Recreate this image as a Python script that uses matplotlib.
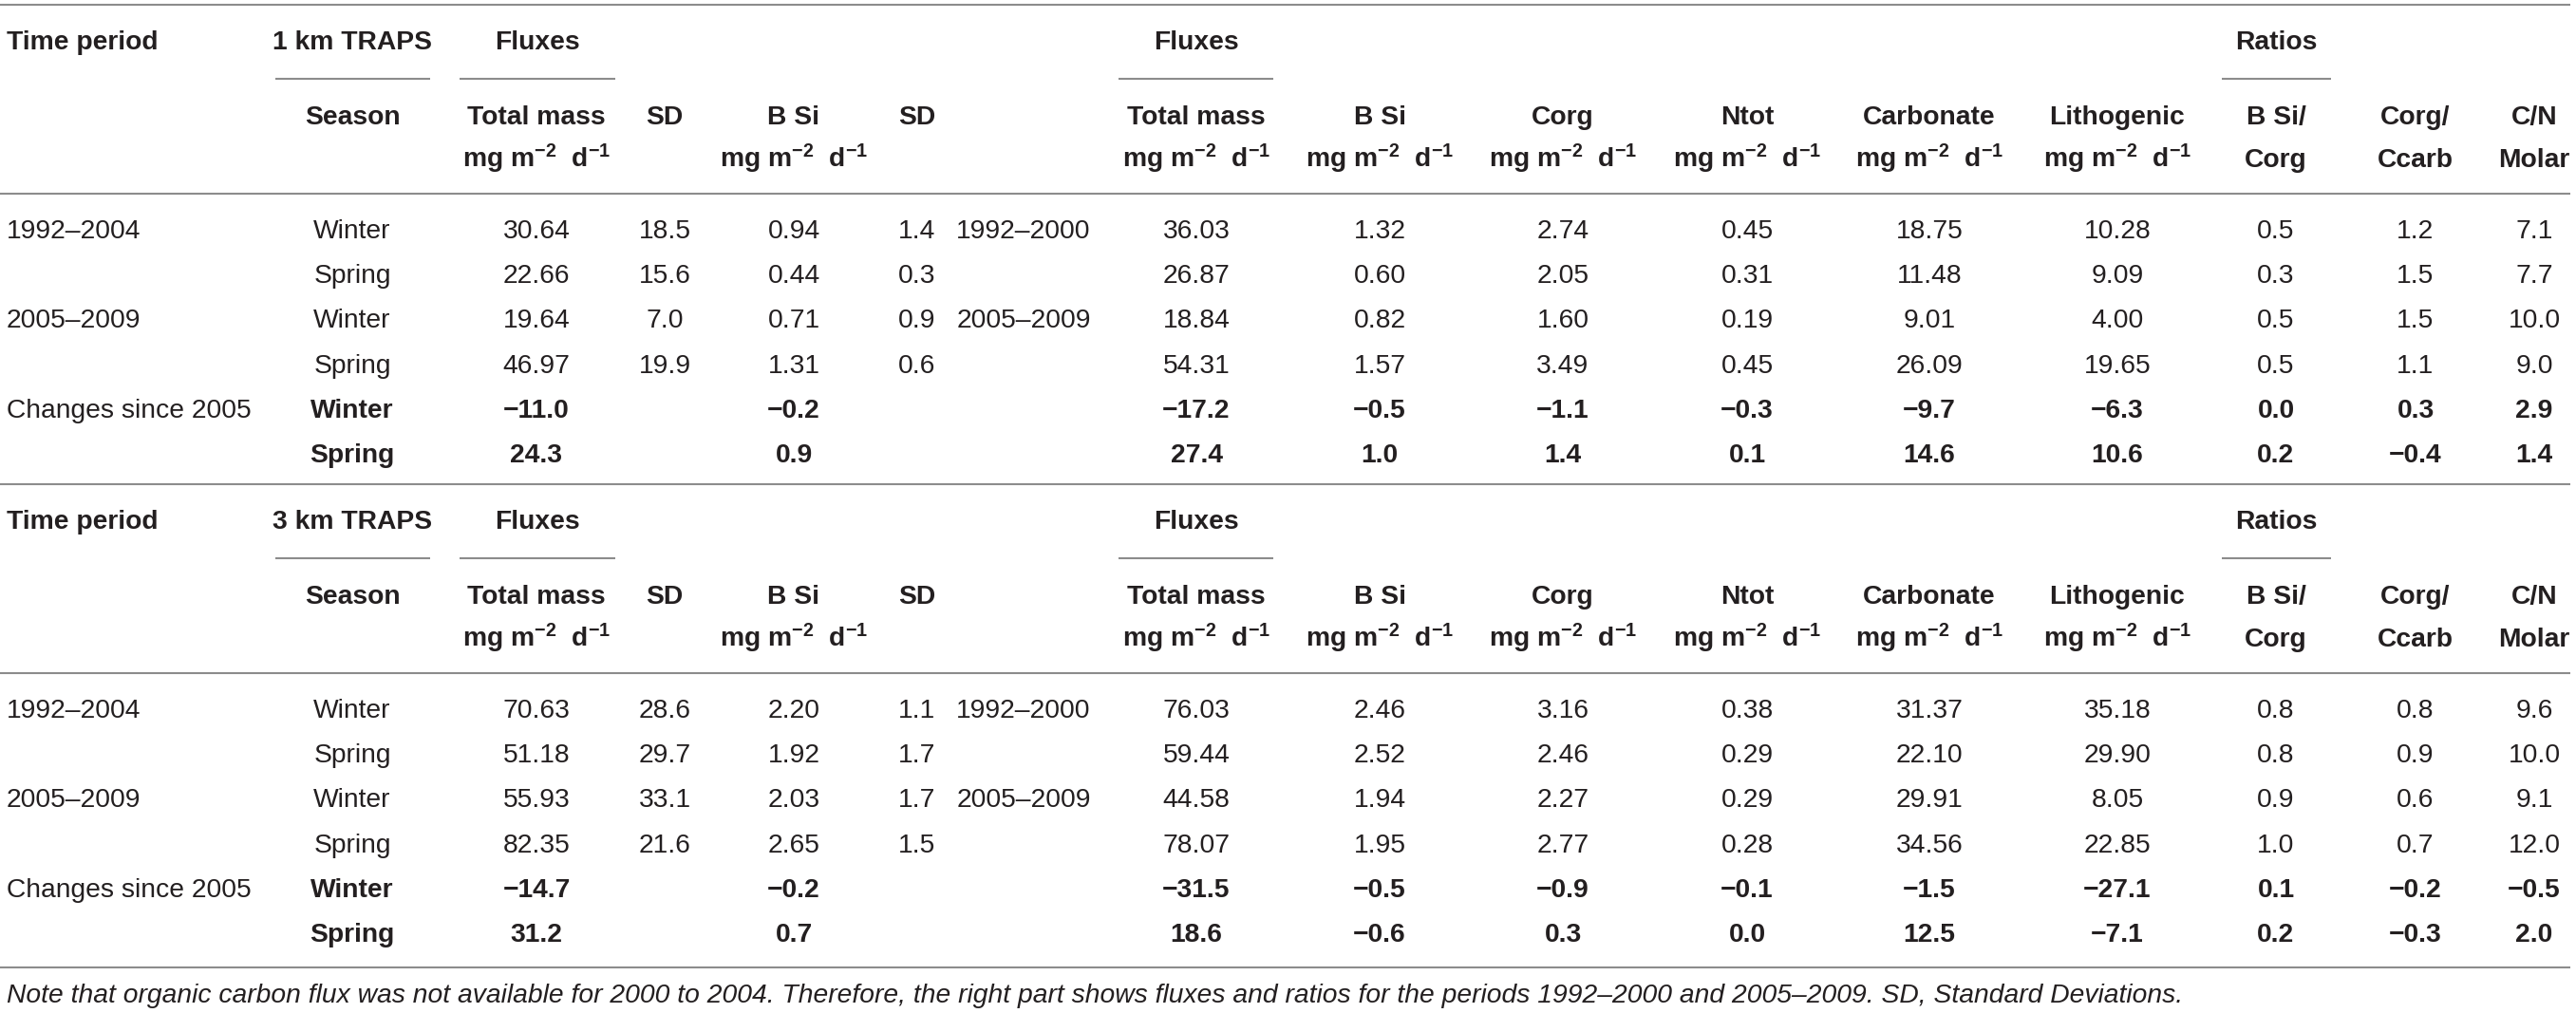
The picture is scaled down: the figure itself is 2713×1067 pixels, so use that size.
import matplotlib.pyplot as plt

plt.rcParams['font.family'] = ['Liberation Sans', 'DejaVu Sans']
plt.rcParams['mathtext.fontset'] = 'custom'
plt.rcParams['mathtext.rm'] = 'Liberation Sans'
plt.rcParams['mathtext.bf'] = 'Liberation Sans:bold'
plt.rcParams['mathtext.it'] = 'Liberation Sans:italic'

# row labels
periods = ['1992\u20132004', '', '2005\u20132009', '', 'Changes since 2005', '']
seasons = ['Winter', 'Spring', 'Winter', 'Spring', 'Winter', 'Spring']
periods_right = ['1992\u20132000', '', '2005\u20132009', '', '', '']

# column headers
head_top = ['Fluxes', 'Fluxes', 'Ratios']
head_names = ['Total mass', 'SD', 'B Si', 'SD', '', 'Total mass', 'B Si', 'Corg',
              'Ntot', 'Carbonate', 'Lithogenic', 'B Si/', 'Corg/', 'C/N']
unit = r'$\mathbf{mg\ m^{-2}\ \ d^{-1}}$'
head_units = [unit, '', unit, '', '', unit, unit, unit, unit, unit, unit,
              'Corg', 'Ccarb', 'Molar']

# 1 km traps
km1_left = [
    ['30.64', '18.5', '0.94', '1.4'],
    ['22.66', '15.6', '0.44', '0.3'],
    ['19.64', '7.0', '0.71', '0.9'],
    ['46.97', '19.9', '1.31', '0.6'],
    ['\u221211.0', '', '\u22120.2', ''],
    ['24.3', '', '0.9', ''],
]
km1_right = [
    ['36.03', '1.32', '2.74', '0.45', '18.75', '10.28', '0.5', '1.2', '7.1'],
    ['26.87', '0.60', '2.05', '0.31', '11.48', '9.09', '0.3', '1.5', '7.7'],
    ['18.84', '0.82', '1.60', '0.19', '9.01', '4.00', '0.5', '1.5', '10.0'],
    ['54.31', '1.57', '3.49', '0.45', '26.09', '19.65', '0.5', '1.1', '9.0'],
    ['\u221217.2', '\u22120.5', '\u22121.1', '\u22120.3', '\u22129.7', '\u22126.3', '0.0', '0.3', '2.9'],
    ['27.4', '1.0', '1.4', '0.1', '14.6', '10.6', '0.2', '\u22120.4', '1.4'],
]

# 3 km traps
km3_left = [
    ['70.63', '28.6', '2.20', '1.1'],
    ['51.18', '29.7', '1.92', '1.7'],
    ['55.93', '33.1', '2.03', '1.7'],
    ['82.35', '21.6', '2.65', '1.5'],
    ['\u221214.7', '', '\u22120.2', ''],
    ['31.2', '', '0.7', ''],
]
km3_right = [
    ['76.03', '2.46', '3.16', '0.38', '31.37', '35.18', '0.8', '0.8', '9.6'],
    ['59.44', '2.52', '2.46', '0.29', '22.10', '29.90', '0.8', '0.9', '10.0'],
    ['44.58', '1.94', '2.27', '0.29', '29.91', '8.05', '0.9', '0.6', '9.1'],
    ['78.07', '1.95', '2.77', '0.28', '34.56', '22.85', '1.0', '0.7', '12.0'],
    ['\u221231.5', '\u22120.5', '\u22120.9', '\u22120.1', '\u22121.5', '\u221227.1', '0.1', '\u22120.2', '\u22120.5'],
    ['18.6', '\u22120.6', '0.3', '0.0', '12.5', '\u22127.1', '0.2', '\u22120.3', '2.0'],
]

note = ('Note that organic carbon flux was not available for 2000 to 2004. Therefore, the right part '
        'shows fluxes and ratios for the periods 1992\u20132000 and 2005\u20132009. SD, Standard Deviations.')

W, H = 2713, 1067
fig = plt.figure(figsize=(W / 100, H / 100), dpi=100)
ax = fig.add_axes([0, 0, 1, 1])
ax.set_xlim(0, W)
ax.set_ylim(H, 0)
ax.axis('off')

FS = 20.3
TXT = '#231f20'
RULE = '#8c8c8c'

# column centres (pixels)
x_season = 371
x_cols = [565, 700, 836, 966, 1078, 1260, 1453, 1646, 1840, 2032, 2230, 2397, 2544, 2669]
top_spans = [(484, 648), (1178, 1341), (2340, 2455)]


def hline(y, x0=0, x1=2707):
    ax.plot([x0, x1], [y, y], color=RULE, lw=1.5, solid_capstyle='butt')


def draw_block(top, label, left, right):
    hline(top)
    # header row 1
    ax.text(7, top + 47, 'Time period', fontsize=FS, fontweight='bold', color=TXT)
    ax.text(x_season, top + 47, label, fontsize=FS, fontweight='bold', color=TXT, ha='center')
    hline(top + 78, 290, 453)
    for name, (a, b) in zip(head_top, top_spans):
        ax.text((a + b) / 2, top + 47, name, fontsize=FS, fontweight='bold', color=TXT, ha='center')
        hline(top + 78, a, b)
    # header row 2 + units
    ax.text(x_season, top + 126, 'Season', fontsize=FS, fontweight='bold', color=TXT, ha='center')
    for x, name, u in zip(x_cols, head_names, head_units):
        ax.text(x, top + 126, name, fontsize=FS, fontweight='bold', color=TXT, ha='center')
        if u:
            ax.text(x, top + 171, u, fontsize=FS, fontweight='bold', color=TXT, ha='center')
    hline(top + 199)
    # data rows
    for i in range(6):
        y = top + 246 + i * 47.2
        bold = i >= 4
        fw = 'bold' if bold else 'normal'
        ax.text(7, y, periods[i], fontsize=FS, color=TXT)
        ax.text(x_season, y, seasons[i], fontsize=FS, fontweight=fw, color=TXT, ha='center')
        vals = left[i] + [periods_right[i]] + right[i]
        for j, (x, v) in enumerate(zip(x_cols, vals)):
            w = 'normal' if j == 4 else fw
            ax.text(x, y, v, fontsize=FS, fontweight=w, color=TXT, ha='center')


draw_block(5, '1 km TRAPS', km1_left, km1_right)
draw_block(510, '3 km TRAPS', km3_left, km3_right)
hline(1019)
ax.text(7, 1056, note, fontsize=20.3, style='italic', color=TXT)

fig.savefig('out.png', dpi=100)
